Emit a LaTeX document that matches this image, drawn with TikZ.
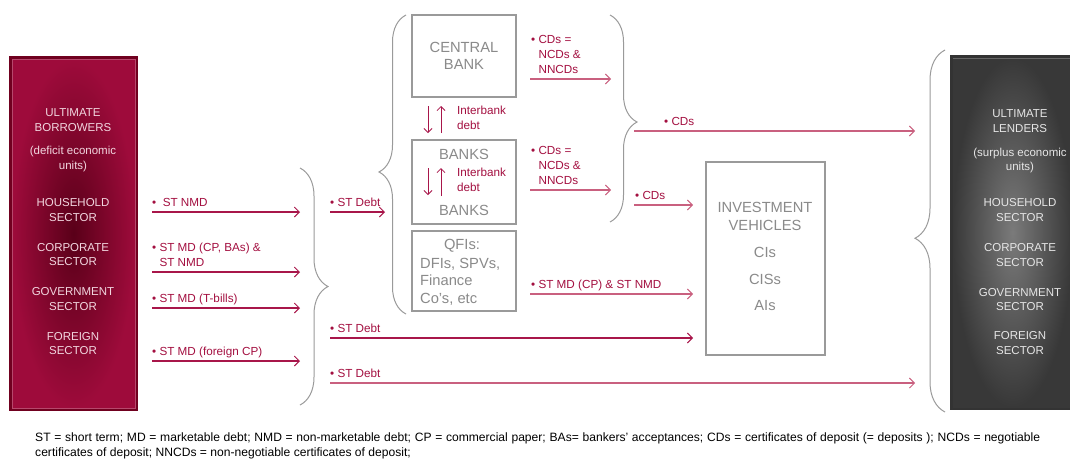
\documentclass[tikz,border=0pt]{standalone}
\usepackage{fontspec}
\setmainfont{Liberation Sans}
\usetikzlibrary{arrows.meta,decorations.pathreplacing}
\definecolor{crim}{HTML}{A30F40}
\definecolor{crimline}{HTML}{A8164A}
\definecolor{pinkline}{HTML}{C9607F}
\definecolor{boxgray}{HTML}{9A9A9A}
\definecolor{txtgray}{HTML}{8A8A8A}
\definecolor{bordcrim}{HTML}{9E0B3B}
\definecolor{bordcrimin}{HTML}{70001F}
\definecolor{lefttxt}{HTML}{F2D6DF}
\definecolor{righttxt}{HTML}{E6E6E6}
\tikzset{
  flow/.style={draw=crimline,line width=1.1pt,-{Straight Barb[length=5pt,width=10pt,line width=0.9pt]}},
  flowp/.style={draw=pinkline,line width=1.1pt,-{Straight Barb[length=5pt,width=10pt,line width=0.9pt]}},
  ibarrow/.style={draw=crimline,line width=1pt,-{Straight Barb[length=4pt,width=8pt,line width=0.8pt]}},
  lbl/.style={anchor=base west,inner sep=0pt,text=crim,font=\fontsize{11.7}{15}\selectfont,align=left},
  instbox/.style={draw=boxgray,line width=1.1pt,fill=white},
  insttxt/.style={anchor=base,inner sep=0pt,text=txtgray,font=\fontsize{14.7}{17.5}\selectfont},
  lefttext/.style={anchor=base,inner sep=0pt,text=lefttxt,font=\fontsize{11.5}{14}\selectfont},
  righttext/.style={anchor=base,inner sep=0pt,text=righttxt,font=\fontsize{11.5}{14}\selectfont},
  bracep/.style={draw=boxgray,line width=1pt,decorate,decoration={brace,amplitude=#1}},
  notetxt/.style={anchor=base west,inner sep=0pt,text=black,font=\fontsize{12.1}{14.5}\selectfont,align=left}
}
\begin{document}
\begin{tikzpicture}[x=1pt,y=-1pt]
\useasboundingbox (0,0) rectangle (1070,459);
% ---------- left box ----------
\fill[bordcrimin] (9,56) rectangle (138,411);
\shade[inner color=bordcrimin!80!black,outer color=bordcrim] (12,59) rectangle (135,408);
\draw[bordcrim!75!white,line width=0.8pt] (12,59) rectangle (135,408);
\node[lefttext] (lb1) at (73,116) {ULTIMATE};
\node[lefttext] (lb2) at (73,131) {BORROWERS};
\node[lefttext] (lb3) at (73,154) {(deficit economic};
\node[lefttext] (lb4) at (73,169) {units)};
\node[lefttext] (lb5) at (73,206) {HOUSEHOLD};
\node[lefttext] (lb6) at (73,221) {SECTOR};
\node[lefttext] (lb7) at (73,251) {CORPORATE};
\node[lefttext] (lb8) at (73,265) {SECTOR};
\node[lefttext] (lb9) at (73,295) {GOVERNMENT};
\node[lefttext] (lb10) at (73,310) {SECTOR};
\node[lefttext] (lb11) at (73,340) {FOREIGN};
\node[lefttext] (lb12) at (73,354) {SECTOR};
% ---------- right box ----------
\fill[black!80] (950,55) rectangle (1072,410);
\shade[inner color=black!52,outer color=black!78] (953,58) rectangle (1072,407);
\draw[black!60,line width=0.8pt] (953,58) -- (1072,58);
\node[righttext] (rb1) at (1020,117) {ULTIMATE};
\node[righttext] (rb2) at (1020,132) {LENDERS};
\node[righttext] (rb3) at (1020,156) {(surplus economic};
\node[righttext] (rb4) at (1020,170) {units)};
\node[righttext] (rb5) at (1020,206) {HOUSEHOLD};
\node[righttext] (rb6) at (1020,221) {SECTOR};
\node[righttext] (rb7) at (1020,251) {CORPORATE};
\node[righttext] (rb8) at (1020,266) {SECTOR};
\node[righttext] (rb9) at (1020,296) {GOVERNMENT};
\node[righttext] (rb10) at (1020,310) {SECTOR};
\node[righttext] (rb11) at (1020,339) {FOREIGN};
\node[righttext] (rb12) at (1020,354) {SECTOR};
% ---------- institution boxes ----------
\node[instbox,minimum width=104pt,minimum height=82pt] (cb) at (464,56) {};
\node[insttxt] (cbt1) at (464,52) {CENTRAL};
\node[insttxt] (cbt2) at (464,69) {BANK};
\node[instbox,minimum width=104pt,minimum height=84pt] (bk) at (464,182) {};
\node[insttxt] (bkt1) at (464,159) {BANKS};
\node[insttxt] (bkt2) at (464,215) {BANKS};
\node[instbox,minimum width=104pt,minimum height=80pt] (qfi) at (464,271) {};
\node[insttxt] (q1) at (462,249.5) {QFIs:};
\node[insttxt,anchor=base west] (q2) at (420,268) {DFIs, SPVs,};
\node[insttxt,anchor=base west] (q3) at (420,285.5) {Finance};
\node[insttxt,anchor=base west] (q4) at (420,303) {Co’s, etc};
\node[instbox,minimum width=119pt,minimum height=193pt] (iv) at (765.5,258.5) {};
\node[insttxt] (iv1) at (765,212.5) {INVESTMENT};
\node[insttxt] (iv2) at (765,230.5) {VEHICLES};
\node[insttxt] (iv3) at (765,257.5) {CIs};
\node[insttxt] (iv4) at (765,284.5) {CISs};
\node[insttxt] (iv5) at (765,310.5) {AIs};
% ---------- braces ----------
\coordinate (brA1) at (300,168); \coordinate (brA2) at (300,405);
\draw[bracep=28pt] (brA1) -- (brA2);
\coordinate (brB1) at (406,314); \coordinate (brB2) at (406,15);
\draw[bracep=27pt,decoration={aspect=0.475}] (brB1) -- (brB2);
\coordinate (brC1) at (610,15); \coordinate (brC2) at (610,222);
\draw[bracep=27pt,decoration={aspect=0.517}] (brC1) -- (brC2);
\coordinate (brD1) at (945,412); \coordinate (brD2) at (945,50);
\draw[bracep=30pt,decoration={aspect=0.48}] (brD1) -- (brD2);
% ---------- left arrows ----------
\coordinate (a1s) at (152,212); \coordinate (a1e) at (300,212);
\draw[flow] (a1s) -- (a1e);
\node[lbl] (l1) at (152,206.5) {•\ \ ST NMD};
\coordinate (a2s) at (152,272); \coordinate (a2e) at (300,272);
\draw[flow] (a2s) -- (a2e);
\node[lbl] (l2) at (152,266.5) {• ST MD (CP, BAs) \&\\\phantom{• }ST NMD};
\coordinate (a3s) at (152,308); \coordinate (a3e) at (300,308);
\draw[flow] (a3s) -- (a3e);
\node[lbl] (l3) at (152,302.5) {• ST MD (T-bills)};
\coordinate (a4s) at (152,361); \coordinate (a4e) at (300,361);
\draw[flow] (a4s) -- (a4e);
\node[lbl] (l4) at (152,355.5) {• ST MD (foreign CP)};
% ---------- ST Debt arrows ----------
\coordinate (d1s) at (330,212); \coordinate (d1e) at (385,212);
\draw[flow] (d1s) -- (d1e);
\node[lbl] (ld1) at (330,206.5) {• ST Debt};
\coordinate (d2s) at (330,338); \coordinate (d2e) at (693,338);
\draw[flow] (d2s) -- (d2e);
\node[lbl] (ld2) at (330,332.5) {• ST Debt};
\coordinate (d3s) at (330,383); \coordinate (d3e) at (915,383);
\draw[flowp] (d3s) -- (d3e);
\node[lbl] (ld3) at (330,377.5) {• ST Debt};
% ---------- CDs arrows ----------
\coordinate (c1s) at (530,79); \coordinate (c1e) at (611,79);
\draw[flowp] (c1s) -- (c1e);
\node[lbl] (lc1) at (531,73.5) {• CDs =\\\phantom{• }NCDs \&\\\phantom{• }NNCDs};
\coordinate (c2s) at (530,190); \coordinate (c2e) at (611,190);
\draw[flowp] (c2s) -- (c2e);
\node[lbl] (lc2) at (531,184.5) {• CDs =\\\phantom{• }NCDs \&\\\phantom{• }NNCDs};
\coordinate (c3s) at (634,131); \coordinate (c3e) at (915,131);
\draw[flowp] (c3s) -- (c3e);
\node[lbl] (lc3) at (664,125) {• CDs};
\coordinate (c4s) at (634,205); \coordinate (c4e) at (693,205);
\draw[flowp] (c4s) -- (c4e);
\node[lbl] (lc4) at (635,199) {• CDs};
\coordinate (m1s) at (530,294); \coordinate (m1e) at (693,294);
\draw[flowp] (m1s) -- (m1e);
\node[lbl] (lm1) at (531,288.5) {• ST MD (CP) \& ST NMD};
% ---------- interbank arrows ----------
\coordinate (i1s) at (428,106); \coordinate (i1e) at (428,133);
\draw[ibarrow] (i1s) -- (i1e);
\coordinate (i2s) at (441,133); \coordinate (i2e) at (441,106);
\draw[ibarrow] (i2s) -- (i2e);
\node[lbl] (li1) at (457,129.5) {Interbank\\debt};
\coordinate (i3s) at (428,168); \coordinate (i3e) at (428,195);
\draw[ibarrow] (i3s) -- (i3e);
\coordinate (i4s) at (441,196); \coordinate (i4e) at (441,168);
\draw[ibarrow] (i4s) -- (i4e);
\node[lbl] (li2) at (457,191.5) {Interbank\\debt};
% ---------- footnote ----------
\node[notetxt] (note) at (35,456) {\makebox[1005pt][s]{ST = short term; MD = marketable debt; NMD = non-marketable debt; CP = commercial paper; BAs= bankers’ acceptances; CDs = certificates of deposit (= deposits ); NCDs = negotiable}\\certificates of deposit; NNCDs = non-negotiable certificates of deposit;};
\end{tikzpicture}
\end{document}
